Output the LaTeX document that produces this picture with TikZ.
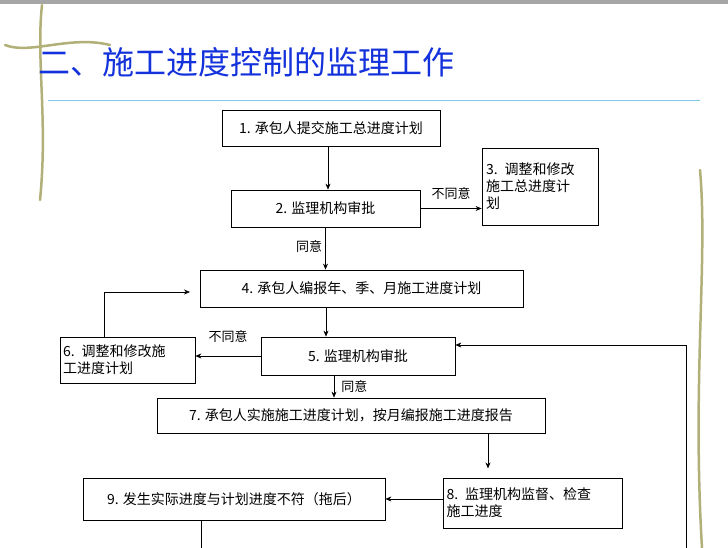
\documentclass[tikz,border=0pt]{standalone}
\usepackage{fontspec}
\setmainfont{Noto Sans CJK SC}
\usetikzlibrary{arrows.meta,positioning}
\definecolor{vine}{RGB}{176,176,120}
\definecolor{titleblue}{RGB}{20,50,220}
\definecolor{rule}{RGB}{130,200,230}
\tikzset{
  flowbox/.style={draw, thick, inner sep=2pt, font=\fontsize{14pt}{17pt}\selectfont},
  flow/.style={-{Stealth[length=6pt,width=5pt]}, semithick},
  lbl/.style={font=\fontsize{13pt}{15pt}\selectfont, inner sep=1pt}
}
\begin{document}
\begin{tikzpicture}[x=1pt, y=-1pt]
    \useasboundingbox (0,0) rectangle (728,548);
    \fill[white] (0,0) rectangle (728,548);
    % slide frame and vines
    \fill[black!35] (0,0) rectangle (728,4);
    \draw[vine, line width=2.5pt, line cap=round] (42,5) .. controls (36,60) and (48,120) .. (40,200);
    \draw[vine, line width=2.5pt, line cap=round] (5,45) .. controls (30,55) and (70,35) .. (110,45);
    \draw[vine, line width=2.5pt, line cap=round] (700,170) .. controls (708,260) and (692,380) .. (702,548);

    % title
    \node[anchor=west, text=titleblue, font=\fontsize{32pt}{36pt}\selectfont, inner sep=0pt] (title) at (38,62) {二、施工进度控制的监理工作};
    \coordinate (ruleL) at (48,101);
    \coordinate (ruleR) at (700,101);
    \draw[rule, line width=1pt] (ruleL) -- (ruleR);

    % boxes
    \node[flowbox, minimum width=218pt, minimum height=36pt] (plan) at (331,128) {1. 承包人提交施工总进度计划};
    \node[flowbox, minimum width=189pt, minimum height=37pt] (check) at (325.5,208.5) {2. 监理机构审批};
    \node[flowbox, minimum width=116pt, minimum height=77pt, text width=108pt, align=left] (revise) at (540,186.5) {3. 调整和修改\\施工总进度计\\划};
    \node[flowbox, minimum width=323pt, minimum height=37pt] (period) at (361.5,288.5) {4. 承包人编报年、季、月施工进度计划};
    \node[flowbox, minimum width=194pt, minimum height=38pt] (check2) at (358,356) {5. 监理机构审批};
    \node[flowbox, minimum width=135pt, minimum height=46pt, text width=129pt, align=left] (revise2) at (127.5,360) {6. 调整和修改施\\工进度计划};
    \node[flowbox, minimum width=388pt, minimum height=35pt] (run) at (351,415.5) {7. 承包人实施施工进度计划，按月编报施工进度报告};
    \node[flowbox, minimum width=179pt, minimum height=50pt, text width=172pt, align=left] (watch) at (532.5,503) {8. 监理机构监督、检查\\施工进度};
    \node[flowbox, minimum width=302pt, minimum height=42pt] (delay) at (234,499) {9. 发生实际进度与计划进度不符（拖后）};

    % connectors
    \draw[flow] (plan.south -| 328,0) -- (check.north -| 328,0);
    \draw[flow] (check.east) -- node[lbl, above=8pt] {不同意} (revise.west |- check.east);
    \draw[flow] (check) -- node[lbl, left=2pt, pos=0.45] {同意} (check |- period.north);
    \draw[flow] (period.south -| 326,0) -- (check2.north -| 326,0);
    \draw[flow] (check2.west) -- node[lbl, above=12pt] {不同意} (revise2.east |- check2.west);
    \coordinate (backto4) at (190,292);
    \draw[flow] (revise2.north -| 104,0) |- (backto4);
    \draw[flow] (check2.south -| 334,0) -- node[lbl, right=6pt, pos=0.5] {同意} (run.north -| 334,0);
    \draw[flow] (run.south -| 488,0) -- ++(0,35);
    \draw[flow] (watch.west |- delay.east) -- (delay.east);
    \coordinate (down9) at (201,548);
    \draw[semithick] (delay.south -| down9) -- (down9);
    \coordinate (loopfoot) at (686,548);
    \draw[flow] (loopfoot) |- (check2.east |- 0,345);
\end{tikzpicture}
\end{document}
